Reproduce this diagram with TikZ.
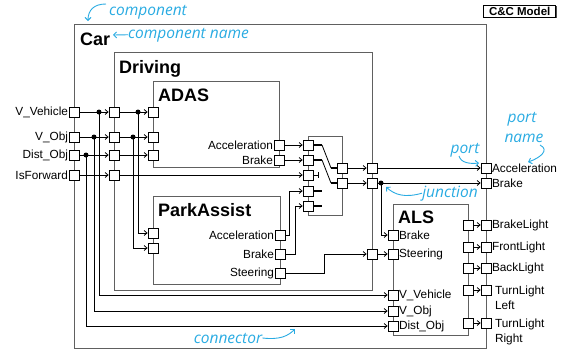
\documentclass[tikz,border=0pt]{standalone}
\usepackage{fontspec}
\setmainfont{Liberation Sans}
\newfontfamily\notefont{Open Sans}
\usetikzlibrary{arrows.meta,shadows}
\definecolor{notecol}{RGB}{41,171,226}
\definecolor{compcol}{RGB}{96,96,96}
\tikzset{
  comp/.style={draw=compcol, line width=1.2pt, anchor=north west, inner sep=0},
  port/.style={draw, fill=white, minimum size=10pt, inner sep=0, line width=0.7pt, label distance=3pt},
  conn/.style={line width=0.8pt, -{Straight Barb[length=3pt,width=5pt]}},
  thickwire/.style={line width=2pt},
  title/.style={font=\bfseries\fontsize{18}{20}\selectfont, anchor=base west, inner sep=0},
  lbl/.style={font=\fontsize{11.8}{15}\selectfont, inner sep=0.5pt},
  note/.style={text=notecol, font=\notefont\itshape\fontsize{15.5}{19}\selectfont, inner sep=0},
  notearrow/.style={draw=notecol, line width=0.9pt, -{Straight Barb[length=3pt,width=6pt]}},
}
\begin{document}
\begin{tikzpicture}[x=1pt, y=-1pt]
\useasboundingbox (0,0) rectangle (561,354);

% components
\node[comp, minimum width=412pt, minimum height=324pt] (car) at (74,24) {};
\node[comp, minimum width=258pt, minimum height=238pt] (driving) at (114,52) {};
\node[comp, minimum width=126pt, minimum height=86pt] (adas) at (153,81) {};
\node[comp, minimum width=127pt, minimum height=88pt] (park) at (153,196) {};
\node[comp, minimum width=34pt, minimum height=79pt] (mux) at (308,136) {};
\node[comp, minimum width=75pt, minimum height=131pt] (als) at (393,204) {};

\node[title] (carName) at (80,45) {Car};
\node[title] (drivingName) at (119,73) {Driving};
\node[title] (adasName) at (158,101) {ADAS};
\node[title] (parkName) at (158,216) {ParkAssist};
\node[title] (alsName) at (398,223) {ALS};

\node[draw, line width=0.6pt, fill=white, drop shadow={shadow xshift=1pt, shadow yshift=-0.6pt, fill=black!70, opacity=1},
  font=\bfseries\fontsize{11.5}{12}\selectfont, minimum width=72pt, minimum height=12pt, inner sep=0, anchor=north east] (model) at (556,5) {C\&C Model};

% ports
\foreach \n/\y/\t in {VV/112/V\_Vehicle, VO/137/V\_Obj, DO/155/Dist\_Obj, IF/175/IsForward} {
  \node[port, label={[lbl]left:\t}] (car\n) at (74,\y) {};
  \node[port] (dr\n) at (114,\y) {};
}
\foreach \n/\y in {VV/112, VO/137, DO/155}
  \node[port] (ad\n) at (153,\y) {};
\node[port, label={[lbl]left:Acceleration}] (adAcc) at (279,145) {};
\node[port, label={[lbl]left:Brake}] (adBr) at (279,160) {};

\node[port] (paVV) at (153,233) {};
\node[port] (paVO) at (153,248) {};
\node[port, label={[lbl]left:Acceleration}] (paAcc) at (280,235) {};
\node[port, label={[lbl]left:Brake}] (paBr) at (280,254) {};
\node[port, label={[lbl]left:Steering}] (paSt) at (280,273) {};

\foreach \i/\y in {1/145, 2/160, 3/175, 4/191, 5/206}
  \node[port] (m\i) at (308,\y) {};
\node[port] (mo1) at (342,168) {};
\node[port] (mo2) at (342,183) {};

\node[port] (drAcc) at (372,168) {};
\node[port] (drBr) at (372,183) {};
\node[port] (drSt) at (372,254) {};
\node[port, label={[lbl]right:Acceleration}] (carAcc) at (486,168) {};
\node[port, label={[lbl]right:Brake}] (carBr) at (486,183) {};

\foreach \n/\y/\t in {Br/235/Brake, St/254/Steering, VV/295/V\_Vehicle, VO/311/V\_Obj, DO/326/Dist\_Obj}
  \node[port, label={[lbl]right:\t}] (al\n) at (393,\y) {};
\foreach \n/\y/\t in {BL/225/BrakeLight, FL/247/FrontLight, BkL/268/BackLight} {
  \node[port] (alo\n) at (468,\y) {};
  \node[port, label={[lbl]right:\t}] (car\n) at (486,\y) {};
}
\foreach \n/\y in {TL/290, TR/323} {
  \node[port] (alo\n) at (468,\y) {};
  \node[port] (car\n) at (486,\y) {};
}
\node[lbl, align=left, anchor=north west] (tlLeft) at ([xshift=3pt, yshift=5pt]carTL.east) {TurnLight\\Left};
\node[lbl, align=left, anchor=north west] (tlRight) at ([xshift=3pt, yshift=5pt]carTR.east) {TurnLight\\Right};

% switch inside
\draw[thickwire] (m1.east) -- (322,145);
\draw[line width=0.8pt] (322,145) -- (331,168);
\draw[thickwire] (331,168) -- (mo1.west);
\draw[thickwire] (m2.east) -- (322,160);
\draw[line width=0.8pt] (322,160) -- (331,183);
\draw[thickwire] (331,183) -- (mo2.west);
\draw[line width=0.8pt, -{Bar[width=6pt]}] (m3.east) -- ++(5,0);
\draw[thickwire] (m4.east) -- ++(9,0);
\draw[thickwire] (m5.east) -- ++(9,0);

% junctions
\coordinate (jVV) at (99,112);
\coordinate (jVO) at (94,137);
\coordinate (jDO) at (86,155);
\coordinate (jVVa) at (138,112);
\coordinate (jVOa) at (133,137);
\coordinate (jBr) at (381,183);

% connectors
\foreach \n in {VV,VO,DO,IF}
  \draw[conn] (car\n.east) -- (dr\n.west);
\foreach \n in {VV,VO,DO}
  \draw[conn] (dr\n.east) -- (ad\n.west);
\draw[conn] (drIF.east) -- (m3.west);
\draw[conn] (jVV) |- (alVV.west);
\draw[conn] (jVO) |- (alVO.west);
\draw[conn] (jDO) |- (alDO.west);
\draw[conn] (jVVa) |- (paVV.west);
\draw[conn] (jVOa) |- (paVO.west);
\draw[conn] (adAcc.east) -- (m1.west);
\draw[conn] (adBr.east) -- (m2.west);
\draw[conn] (paAcc.east) -- ++(4,0) |- (m4.west);
\draw[conn] (paBr.east) -- ++(10,0) |- (m5.west);
\draw[conn] (paSt.east) -- ++(39,0) |- (drSt.west);
\draw[conn] (mo1.east) -- (drAcc.west);
\draw[conn] (mo2.east) -- (drBr.west);
\draw[conn] (drAcc.east) -- (carAcc.west);
\draw[conn] (drBr.east) -- (carBr.west);
\draw[conn] (jBr) |- (alBr.west);
\draw[conn] (drSt.east) -- (alSt.west);
\foreach \n in {BL,FL,BkL,TL,TR}
  \draw[conn] (alo\n.east) -- (car\n.west);
\foreach \j in {jVV,jVO,jDO,jVVa,jVOa,jBr}
  \fill (\j) circle (2.5pt);

% notes
\node[note, anchor=base] (nComponent) at (148,15) {component};
\draw[notearrow] (106,4) .. controls (94,4) and (88,10) .. (88,21);
\node[note, anchor=base west] (nCompName) at (128,38) {component name};
\draw[notearrow] (nCompName.west) -- (113,35);
\node[note, anchor=base] (nPort) at (465,153) {port};
\draw[notearrow] (459,156) .. controls (461,163) and (470,164) .. (479,163);
\node[note, anchor=base] (nPortName) at (522,122) {port};
\node[note, anchor=base] (nPortName2) at (524,142) {name};
\draw[notearrow] (540,145) .. controls (550,150) and (540,158) .. (528,162);
\node[note, anchor=base] (nJunction) at (450,197) {junction};
\draw[notearrow] (nJunction.west) .. controls (405,198) and (395,195) .. (386,187);
\node[note, anchor=base] (nConnector) at (228,343) {connector};
\draw[notearrow] (nConnector.east) .. controls (280,340) and (288,336) .. (295,329);
\end{tikzpicture}
\end{document}
